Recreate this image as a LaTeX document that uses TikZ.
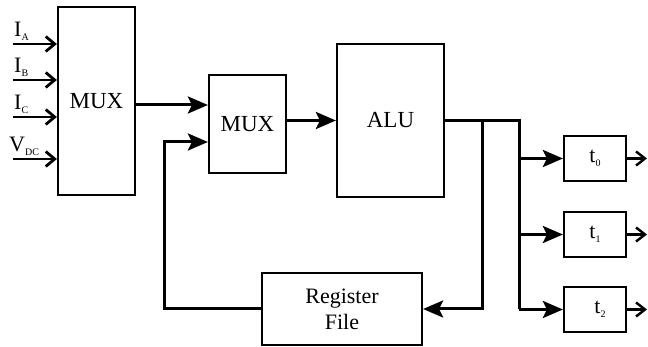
\documentclass[tikz,border=0pt]{standalone}
\usepackage{fontspec}
\setmainfont{Liberation Serif}
\usetikzlibrary{arrows.meta,calc}
\begin{document}
\begin{tikzpicture}[x=1pt,y=-1pt,
  box/.style={draw,line width=2.2pt,inner sep=0pt,align=center},
  wire/.style={line width=3pt},
  conn/.style={line width=3pt,-{Stealth[length=20pt,width=17pt,inset=4pt]}},
  inarr/.style={line width=2.8pt,-{Straight Barb[length=9pt,width=15pt,line width=2.8pt]}},
  outarr/.style={line width=2.4pt,-{Straight Barb[length=9pt,width=14pt,line width=2.4pt]}},
  big/.style={font=\fontsize{23}{23}\selectfont},
  mid/.style={font=\fontsize{22}{26}\selectfont},
  lab/.style={anchor=base west,inner sep=0pt,font=\fontsize{22}{22}\selectfont},
  tlab/.style={font=\fontsize{22}{22}\selectfont}]
\useasboundingbox (0,0) rectangle (648,347);
\newcommand{\sbs}[1]{\raisebox{-4pt}{\fontsize{10}{10}\selectfont #1}}
% boxes
\node[box,big,minimum width=77pt,minimum height=188pt] (mux1) at (96.5,101) {MUX};
\node[box,big,minimum width=77pt,minimum height=98pt] (mux2) at (247.5,124) {MUX};
\node[box,big,minimum width=107pt,minimum height=153pt] (alu) at (390.5,120.5) {ALU};
\node[box,mid,minimum width=160pt,minimum height=72pt] (rf) at (342,309) {Register\\File};
\node[box,tlab,minimum width=62pt,minimum height=45pt] (t0) at (595,158.5) {t\sbs{0}};
\node[box,tlab,minimum width=62pt,minimum height=45pt] (t1) at (595,234.5) {t\sbs{1}};
\node[box,tlab,minimum width=62pt,minimum height=45pt] (t2) at (595,309.5) {\hspace{10pt}t\sbs{2}};
% input labels
\node[lab] (la) at (14,37) {I\sbs{A}};
\node[lab] (lb) at (14,73) {I\sbs{B}};
\node[lab] (lc) at (14,110) {I\sbs{C}};
\node[lab] (lv) at (9,152) {V\sbs{DC}};
% input arrows
\coordinate (ia) at (13,44);
\coordinate (ib) at (13,80);
\coordinate (ic) at (13,117);
\coordinate (iv) at (13,159);
\foreach \c in {ia,ib,ic,iv} \draw[inarr] (\c) -- (\c -| mux1.west);
% mux1 -> mux2
\coordinate (m1o) at (135,105);
\draw[conn] (m1o -| mux1.east) -- (m1o -| mux2.west);
% mux2 -> alu
\draw[conn] (mux2.east |- alu.west) -- (alu.west);
% alu output
\coordinate (j1) at (482,121);
\coordinate (j2) at (519,121);
\draw[wire] (alu.east |- j2) -- (j2) -- (j2 |- t2.west);
\draw[conn] (j1) -- (j1 |- rf.east) -- (rf.east);
\draw[conn] (j2 |- t0.west) -- (t0.west);
\draw[conn] (j2 |- t1.west) -- (t1.west);
\draw[conn] (j2 |- t2.west) -- (t2.west);
% feedback
\coordinate (fb) at (164,142);
\draw[conn] (rf.west) -| (fb) -- (fb -| mux2.west);
% outputs
\coordinate (o0) at (647,158.5);
\coordinate (o1) at (647,234.5);
\coordinate (o2) at (647,309.5);
\draw[outarr] (t0.east) -- (o0);
\draw[outarr] (t1.east) -- (o1);
\draw[outarr] (t2.east) -- (o2);
\end{tikzpicture}
\end{document}
